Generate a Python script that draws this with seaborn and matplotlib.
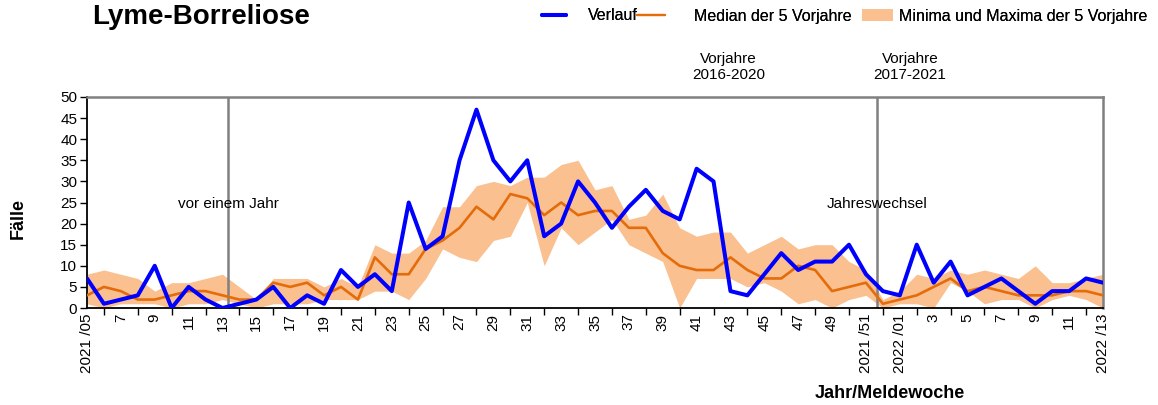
import numpy as np
import pandas as pd
import matplotlib
matplotlib.use("Agg")
import matplotlib.pyplot as plt
import matplotlib.transforms as mtransforms
from matplotlib.lines import Line2D
from matplotlib.patches import Patch
import seaborn as sns

# ---------------- data ----------------
verlauf = [7, 1, 2, 3, 10, 0, 5, 2, 0, 1, 2, 5, 0, 3, 1, 9, 5, 8, 4, 25,
           14, 17, 35, 47, 35, 30, 35, 17, 20, 30, 25, 19, 24, 28, 23, 21, 33, 30, 4, 3,
           8, 13, 9, 11, 11, 15, 8, 4, 3, 15, 6, 11, 3, 5, 7, 4, 1, 4, 4, 7, 6]
median5 = [3, 5, 4, 2, 2, 3, 4, 4, 3, 2, 2, 6,
           5, 6, 3, 5, 2, 12, 8, 8, 14, 16, 19, 24,
           21, 27, 26, 22, 25, 22, 23, 23, 19, 19, 13, 10,
           9, 9, 12, 9, 7, 7, 10, 9, 4, 5, 6, 1,
           2, 3, 5, 7, 4, 5, 4, 3, 3, 3, 4, 4, 3]
max5 = [8, 9, 8, 7, 4, 6, 6, 7, 8, 5, 2, 7,
        7, 7, 5, 7, 5, 15, 13, 13, 16, 24, 24, 29,
        30, 29, 31, 31, 34, 35, 28, 29, 21, 22, 27, 19,
        17, 18, 18, 13, 15, 17, 14, 15, 15, 11, 9, 2,
        4, 8, 7, 9, 8, 9, 8, 7, 10, 6, 6, 7, 8]
min5 = [1, 0, 1, 1, 1, 0, 1, 1, 2, 1, 0, 1,
        1, 1, 2, 2, 2, 4, 4, 2, 7, 14, 12, 11,
        16, 17, 25, 10, 19, 15, 18, 21, 15, 13, 11, 0,
        7, 7, 7, 5, 6, 4, 1, 2, 0, 2, 3, 0,
        1, 1, 0, 6, 4, 1, 2, 2, 0, 2, 3, 2, 0]
tick_labels = ["2021 /05", "7", "9", "11", "13", "15", "17", "19", "21", "23", "25",
               "27", "29", "31", "33", "35", "37", "39", "41", "43", "45", "47", "49",
               "2021 /51", "2022 /01", "3", "5", "7", "9", "11", "2022 /13"]
y_ticks = [0, 5, 10, 15, 20, 25, 30, 35, 40, 45, 50]
legend_labels = ["Verlauf", "Median der 5 Vorjahre", "Minima und Maxima der 5 Vorjahre"]

df = pd.DataFrame({"idx": np.arange(len(verlauf)), "Verlauf": verlauf,
                   "Median": median5, "Max": max5, "Min": min5})

# ---------------- style ----------------
sns.set_style("white")
plt.rcParams["font.family"] = ["Liberation Sans", "DejaVu Sans"]
for k in ["text.color", "axes.labelcolor", "xtick.color", "ytick.color"]:
    plt.rcParams[k] = "black"

BLUE = "#0000FF"
ORANGE = "#E46C0A"
BAND = "#FAC090"
GRAY = "#808080"

W, H = 1158, 405
fig = plt.figure(figsize=(W / 100, H / 100), dpi=100)
ax = fig.add_axes([87 / W, 1 - 308 / H, (1103 - 87) / W, (308 - 97) / H])

ax.fill_between(df["idx"], df["Min"], df["Max"], color=BAND, linewidth=0, zorder=1)
sns.lineplot(data=df, x="idx", y="Median", ax=ax, color=ORANGE, linewidth=1.9, zorder=3)
sns.lineplot(data=df, x="idx", y="Verlauf", ax=ax, color=BLUE, linewidth=2.9, zorder=4)

n = len(verlauf)
ax.set_xlim(0, n - 1)
ax.set_ylim(0, 50)
ax.set_xlabel("")
ax.set_ylabel("")

# reference lines
ax.axvline(8.35, color=GRAY, linewidth=1.8, zorder=2)
ax.axvline(46.65, color=GRAY, linewidth=1.8, zorder=2)
ax.text(8.35, 24.7, "vor einem Jahr", ha="center", va="center", fontsize=11, zorder=5)
ax.text(46.65, 24.7, "Jahreswechsel", ha="center", va="center", fontsize=11, zorder=5)

# ticks
ax.set_yticks(y_ticks)
ax.set_xticks(np.arange(0, n, 2))
ax.set_xticklabels(tick_labels, rotation=90, fontsize=11)
ax.set_xticks(np.arange(1, n, 2), minor=True)
ax.tick_params(axis="x", which="major", length=0, pad=4)
ax.tick_params(axis="x", which="minor", length=5, width=1, color="black", direction="out")
ax.tick_params(axis="y", which="major", length=5, width=1, color="black",
               direction="out", labelsize=11, pad=2)
ax.xaxis.set_ticks_position("bottom")
ax.yaxis.set_ticks_position("left")

for s in ["left", "bottom"]:
    ax.spines[s].set_color("black")
    ax.spines[s].set_linewidth(1.3)
for s in ["top", "right"]:
    ax.spines[s].set_color(GRAY)
    ax.spines[s].set_linewidth(1.8)

# texts
fig.text(92 / W, 1 - 17 / H, "Lyme-Borreliose", fontsize=20, fontweight="bold",
         ha="left", va="center")
fig.text(18 / W, 1 - 218 / H, "Fälle", fontsize=13, fontweight="bold",
         rotation=90, ha="center", va="center")
fig.text(890 / W, 1 - 393 / H, "Jahr/Meldewoche", fontsize=13, fontweight="bold",
         ha="center", va="center")
trans = mtransforms.blended_transform_factory(ax.transData, fig.transFigure)
ax.text(37.9, 1 - 67 / H, "Vorjahre\n2016-2020", transform=trans, ha="center",
        va="center", fontsize=11, linespacing=1.15)
ax.text(48.6, 1 - 67 / H, "Vorjahre\n2017-2021", transform=trans, ha="center",
        va="center", fontsize=11, linespacing=1.15)

# legend: three single-entry legends placed like the reference
handles = [Line2D([0], [0], color=BLUE, linewidth=2.9),
           Line2D([0], [0], color=ORANGE, linewidth=1.6),
           Patch(facecolor=BAND, edgecolor="none")]
specs = [(542, 1.5, 1.35), (637, 1.75, 1.85), (862, 1.95, 0.35)]
for h, lab, (x0, hl, tp) in zip(handles, legend_labels, specs):
    leg = fig.legend([h], [lab], loc="center left", bbox_to_anchor=(x0 / W, 1 - 16 / H),
                     frameon=False, fontsize=11.5, handlelength=hl, handletextpad=tp,
                     borderpad=0, borderaxespad=0, handleheight=0.75)
    fig.add_artist(leg)

fig.savefig("out.png", dpi=100)
